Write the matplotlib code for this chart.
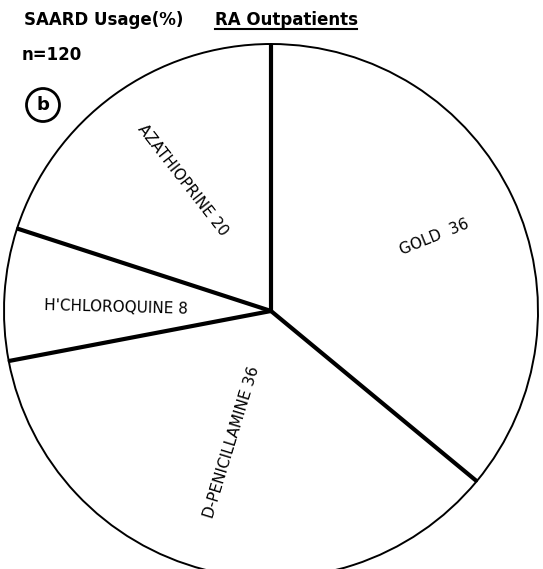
import matplotlib
matplotlib.use('Agg')
import matplotlib.pyplot as plt
from matplotlib.patches import Circle
import numpy as np

# SAARD usage among RA outpatients (%)
drugs = ['GOLD', 'D-PENICILLAMINE', "H'CHLOROQUINE", 'AZATHIOPRINE']
usage = [36, 36, 8, 20]

W, H = 543, 569
fig = plt.figure(figsize=(W / 100, H / 100), dpi=100)
ax = fig.add_axes([0, 0, 1, 1])

cx, cy, r = 271, H - 311, 267

wedges, _ = ax.pie(usage, startangle=90, counterclock=False,
                   center=(cx, cy), radius=r, colors=['white'] * 4,
                   wedgeprops=dict(edgecolor='black', linewidth=1.4),
                   frame=True)
ax.set_xlim(0, W)
ax.set_ylim(0, H)
ax.set_aspect('auto')
ax.axis('off')

# heavier radial dividers
for w in wedges:
    t = np.deg2rad(w.theta1)
    ax.plot([cx, cx + r * np.cos(t)], [cy, cy + r * np.sin(t)],
            color='black', lw=3, solid_capstyle='butt', zorder=3)

# slice labels: (x, y in pixels from top, rotation)
label_pos = [(434, 237, 22), (232, 442, 73), (116, 307, -1.5), (183, 180, -52)]
for name, val, (x, y, rot) in zip(drugs, usage, label_pos):
    sep = '  ' if name == 'GOLD' else ' '
    ax.text(x, H - y, f'{name}{sep}{val}', rotation=rot, ha='center',
            va='center', fontsize=11, rotation_mode='anchor', zorder=4)

ax.text(24, H - 20, 'SAARD Usage(%)', fontsize=12, fontweight='bold',
        ha='left', va='center')
ax.text(215, H - 20, 'RA Outpatients', fontsize=12, fontweight='bold',
        ha='left', va='center')
ax.plot([215, 357], [H - 29, H - 29], color='black', lw=1.5)
ax.text(22, H - 55, 'n=120', fontsize=12, fontweight='bold',
        ha='left', va='center')

ax.add_patch(Circle((43, H - 105), 16.5, fill=False, lw=2, zorder=4))
ax.text(43, H - 105, 'b', fontsize=13, fontweight='bold', ha='center',
        va='center', zorder=4)

fig.savefig('out.png', dpi=100)
